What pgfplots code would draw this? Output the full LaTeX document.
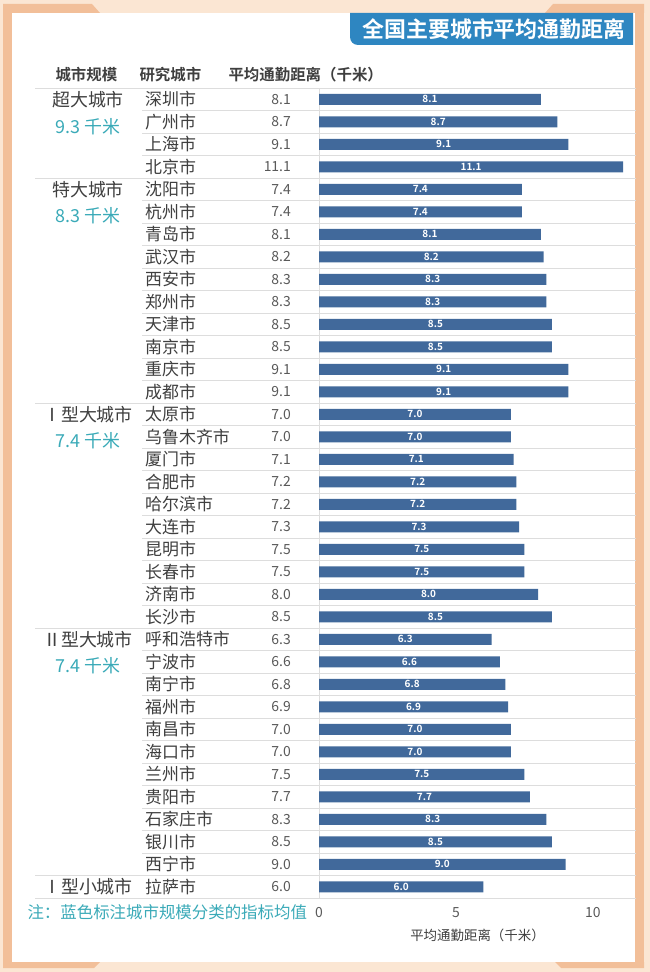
\documentclass[border=0pt]{standalone}
\usepackage{fontspec}
\setmainfont{Noto Sans CJK SC}[BoldFont={Noto Sans CJK SC Bold}]
\usepackage{pgfplots}
\usepackage{pgfplotstable}
\pgfplotsset{compat=1.18}

\definecolor{frameLight}{HTML}{FBE6D3}
\definecolor{frameDark}{HTML}{F2BF99}
\definecolor{titleBlue}{HTML}{2E86C1}
\definecolor{barBlue}{HTML}{41699B}
\definecolor{tealText}{HTML}{3AAAB8}
\definecolor{textGray}{HTML}{3F3F3F}
\definecolor{numGray}{HTML}{595959}
\definecolor{gridGray}{HTML}{DDDDDD}

\newcommand\fs[1]{\fontsize{#1}{#1}\selectfont}

% i = row (top to bottom), v = average commute distance (km)
\pgfplotstableread[col sep=comma]{
i,city,v
0,深圳市,8.1
1,广州市,8.7
2,上海市,9.1
3,北京市,11.1
4,沈阳市,7.4
5,杭州市,7.4
6,青岛市,8.1
7,武汉市,8.2
8,西安市,8.3
9,郑州市,8.3
10,天津市,8.5
11,南京市,8.5
12,重庆市,9.1
13,成都市,9.1
14,太原市,7.0
15,乌鲁木齐市,7.0
16,厦门市,7.1
17,合肥市,7.2
18,哈尔滨市,7.2
19,大连市,7.3
20,昆明市,7.5
21,长春市,7.5
22,济南市,8.0
23,长沙市,8.5
24,呼和浩特市,6.3
25,宁波市,6.6
26,南宁市,6.8
27,福州市,6.9
28,南昌市,7.0
29,海口市,7.0
30,兰州市,7.5
31,贵阳市,7.7
32,石家庄市,8.3
33,银川市,8.5
34,西宁市,9.0
35,拉萨市,6.0
}\commute

\begin{document}
\begin{tikzpicture}
\useasboundingbox (0,0) rectangle (650bp,972bp);
\begin{scope}[x=1bp,y=1bp]
% frame
\fill[frameLight] (0,0) rectangle (650,972);
\fill[frameDark] (3,4) rectangle (12,968);
\fill[frameDark] (635,4) rectangle (644,968);
\fill[frameDark] (3,968) -- (92,968) -- (100,959) -- (3,959) -- cycle;
\fill[frameDark] (553,968) -- (644,968) -- (644,959) -- (545,959) -- cycle;
\fill[frameDark] (3,10) -- (100,10) -- (94,4) -- (3,4) -- cycle;
\fill[frameDark] (555,10) -- (644,10) -- (644,4) -- (561,4) -- cycle;
\fill[white] (12,10) rectangle (635,959);
% title box
\fill[titleBlue] (633,959) -- (350,959) -- (350,935) arc[start angle=180, end angle=270, radius=8] -- (633,927) -- cycle;
\node[text=white, font=\bfseries\fs{22}] at (494,943) {全国主要城市平均通勤距离};
% header
\node[anchor=west, text=textGray, font=\bfseries\fs{15.5}] at (52,897) {城市规模};
\node[anchor=west, text=textGray, font=\bfseries\fs{15.5}] at (136,897) {研究城市};
\node[anchor=west, text=textGray, font=\bfseries\fs{15.5}] at (225,897) {平均通勤距离（千米）};
% note
\node[anchor=west, text=tealText, font=\fs{16.5}] at (24,60) {注：蓝色标注城市规模分类的指标均值};
\end{scope}

\begin{axis}[
    at={(319bp,883.85bp)}, anchor=north west,
    scale only axis, width=317bp, height=810bp,
    xmin=0, xmax=11.57, ymin=-0.5, ymax=35.5, y dir=reverse,
    axis line style={draw=none},
    xtick={0,5,10}, ytick=\empty, major tick length=0pt,
    xticklabel style={anchor=center, yshift=-14bp, text=numGray, font=\fs{14}},
    xlabel={平均通勤距离（千米）},
    xlabel style={at={(axis description cs:0.5,0)}, anchor=center, yshift=-37bp, text=textGray, font=\fs{13.5}},
    clip=false,
    /pgf/number format/assume math mode=true,
]
% row separators
\pgfplotsinvokeforeach{1,2,3,5,6,7,8,9,10,11,12,13,15,16,17,18,19,20,21,22,23,25,26,27,28,29,30,31,32,33,34}{
  \draw[gridGray, line width=0.8bp] (axis cs:-6.46,#1-0.5) -- (axis cs:11.57,#1-0.5);
}
\pgfplotsinvokeforeach{0,4,14,24,35,36}{
  \draw[gridGray, line width=0.8bp] (axis cs:-10.36,#1-0.5) -- (axis cs:11.57,#1-0.5);
}
\draw[gridGray, line width=0.8bp] (axis cs:0,-0.5) -- (axis cs:0,35.5);

\addplot[xbar, bar width=11bp, bar shift=0pt, fill=barBlue, draw=none]
  table[x=v, y=i] {\commute};

% value labels inside bars
\addplot[only marks, mark=none, point meta=explicit,
  nodes near coords={\pgfmathprintnumber[fixed,fixed zerofill,precision=1]{\pgfplotspointmeta}},
  every node near coord/.append style={anchor=center, text=white, font=\bfseries\fs{10}}]
  table[x expr=\thisrow{v}/2, y=i, meta=v] {\commute};

% city names
\addplot[only marks, mark=none, point meta=explicit symbolic, nodes near coords,
  every node near coord/.append style={anchor=west, inner sep=0pt, text=textGray, font=\fs{17}}]
  table[x expr=-6.35, y=i, meta=city] {\commute};

% value column
\addplot[only marks, mark=none, point meta=explicit,
  nodes near coords={\pgfmathprintnumber[fixed,fixed zerofill,precision=1]{\pgfplotspointmeta}},
  every node near coord/.append style={anchor=east, inner sep=0pt, text=numGray, font=\fs{14}}]
  table[x expr=-1.02, y=i, meta=v] {\commute};

% city size groups
\node[text=textGray, font=\fs{18}] at (axis cs:-8.43,0) {超大城市};
\node[text=tealText, font=\fs{18}] at (axis cs:-8.43,1.2) {9.3 千米};
\node[text=textGray, font=\fs{18}] at (axis cs:-8.43,4) {特大城市};
\node[text=tealText, font=\fs{18}] at (axis cs:-8.43,5.15) {8.3 千米};
\node[text=textGray, font=\fs{18}] at (axis cs:-8.43,14) {Ⅰ型大城市};
\node[text=tealText, font=\fs{18}] at (axis cs:-8.43,15.15) {7.4 千米};
\node[text=textGray, font=\fs{18}] at (axis cs:-8.43,24) {Ⅱ型大城市};
\node[text=tealText, font=\fs{18}] at (axis cs:-8.43,25.15) {7.4 千米};
\node[text=textGray, font=\fs{18}] at (axis cs:-8.43,35) {Ⅰ型小城市};
\end{axis}
\end{tikzpicture}
\end{document}
